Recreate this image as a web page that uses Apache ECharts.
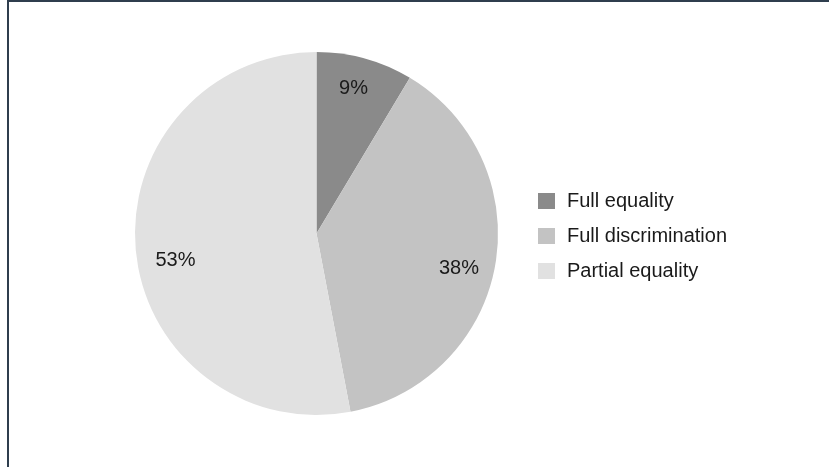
<!DOCTYPE html>
<html>
<head>
<meta charset="utf-8">
<script src="https://cdn.jsdelivr.net/npm/echarts@6/dist/echarts.min.js"></script>
<style>
html,body{margin:0;padding:0;width:829px;height:467px;overflow:hidden;background:#fff;}
#frame{position:absolute;left:7px;top:0;width:900px;height:600px;border-left:2px solid #2f3e4e;border-top:2px solid #2f3e4e;box-sizing:border-box;}
#chart{position:absolute;left:0;top:0;width:829px;height:467px;}
</style>
</head>
<body>
<div id="frame"></div>
<div id="chart"></div>
<script>
const categories = ['Full equality', 'Full discrimination', 'Partial equality'];
const values = [8.6, 38.4, 53.0];
const colors = ['#8a8a8a', '#c3c3c3', '#e1e1e1'];

// label nudges (style only)
const labelOffsets = [[-3, -1], [-5, 9], [8, 13]];

const chart = echarts.init(document.getElementById('chart'));
const pieData = categories.map((name, i) => ({ name: name, value: values[i], itemStyle: { color: colors[i] } }));
const labelData = categories.map((name, i) => ({
  name: name, value: values[i],
  itemStyle: { color: 'rgba(0,0,0,0)' },
  label: { offset: labelOffsets[i] }
}));

chart.setOption({
  animation: false,
  legend: {
    orient: 'vertical',
    left: 538,
    top: 191,
    padding: 0,
    itemWidth: 17,
    itemHeight: 16,
    itemGap: 15,
    icon: 'rect',
    data: categories,
    textStyle: { fontFamily: 'Liberation Sans, Arial, sans-serif', fontSize: 20, color: '#1a1a1a', lineHeight: 20, padding: [0, 0, 0, 7] }
  },
  series: [
    {
      type: 'pie',
      center: [316.5, 233.5],
      radius: [0, 181.5],
      startAngle: 90,
      clockwise: true,
      silent: true,
      label: { show: false },
      labelLine: { show: false },
      itemStyle: { borderWidth: 0 },
      data: pieData
    },
    {
      type: 'pie',
      center: [316.5, 233.5],
      radius: [112, 181.5],
      startAngle: 90,
      clockwise: true,
      silent: true,
      legendHoverLink: false,
      percentPrecision: 0,
      label: {
        show: true,
        position: 'inside',
        formatter: '{d}%',
        fontFamily: 'Liberation Sans, Arial, sans-serif',
        fontSize: 20,
        color: '#1a1a1a'
      },
      labelLine: { show: false },
      itemStyle: { borderWidth: 0 },
      data: labelData
    }
  ]
});
</script>
</body>
</html>
